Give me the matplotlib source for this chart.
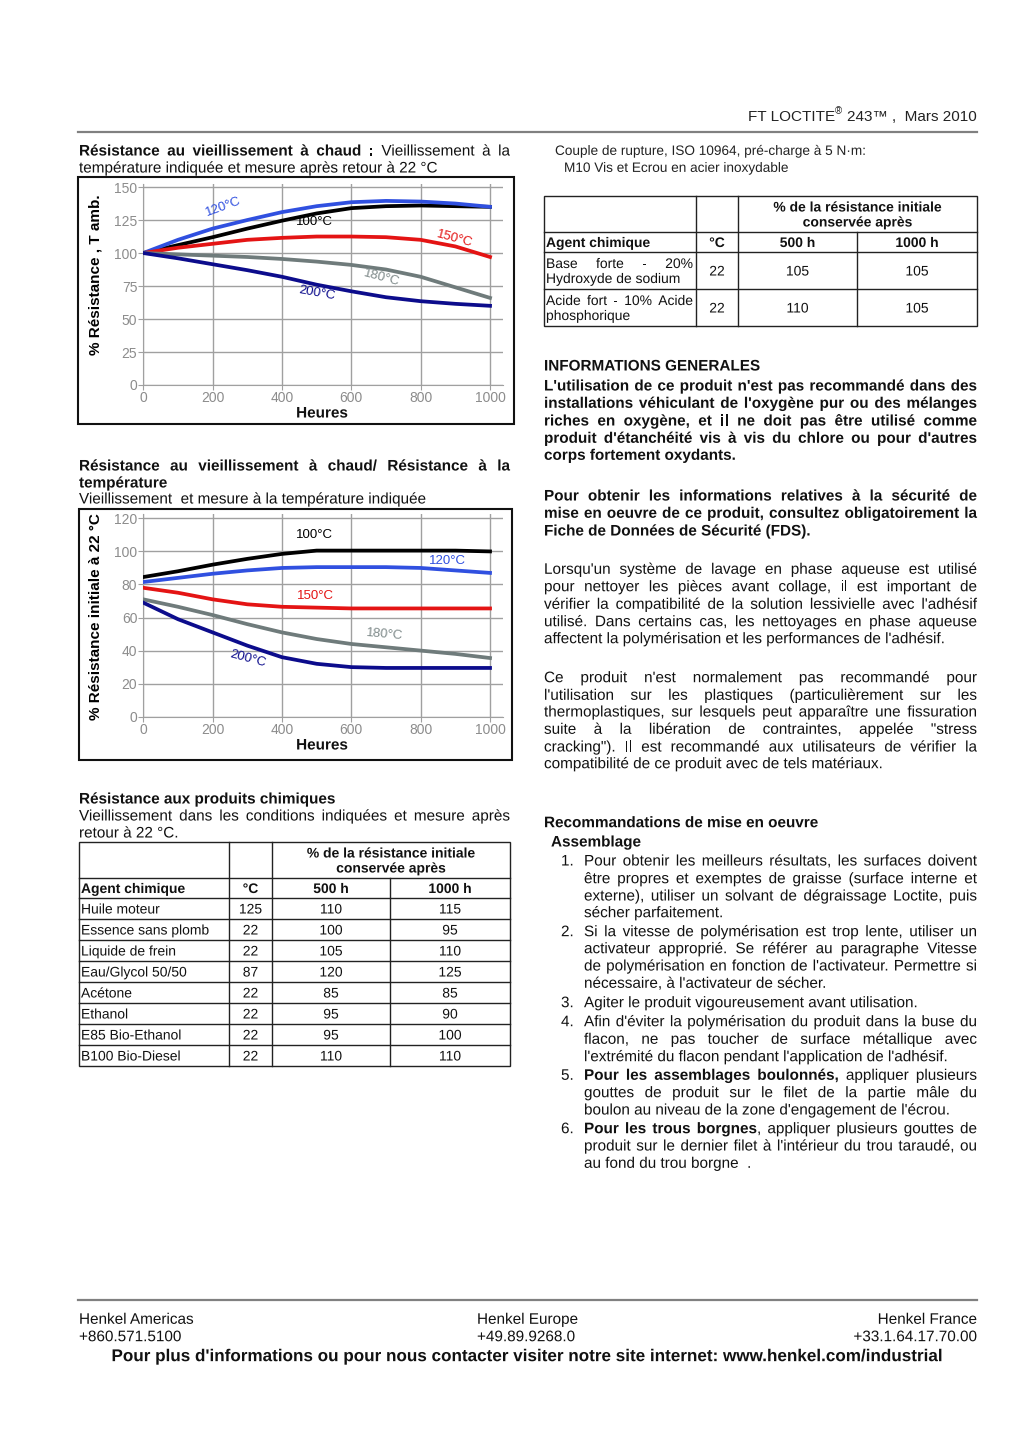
import matplotlib
matplotlib.use("Agg")
import matplotlib.pyplot as plt
from matplotlib.patches import Rectangle, PathPatch
from matplotlib.textpath import TextPath, TextToPath
from matplotlib.font_manager import FontProperties
from matplotlib.transforms import Affine2D

plt.rcParams["font.family"] = ["Liberation Sans", "DejaVu Sans"]

# ==================================================
# DONNEES
# ==================================================

heures = [0, 100, 200, 300, 400, 500, 600, 700, 800, 900, 1000]
temperatures = ["100°C", "120°C", "150°C", "180°C", "200°C"]

# vieillissement a chaud, mesure apres retour a 22 °C (% resistance, T amb.)
amb_100 = [100, 106, 112, 118.5, 124.5, 130, 134, 135.5, 136, 135.5, 135]
amb_120 = [100, 110, 118.5, 125, 131, 135.5, 138.5, 139.5, 139, 137.5, 135]
amb_150 = [100, 104, 107, 110, 111.5, 112.5, 112.5, 112, 110, 105, 97]
amb_180 = [100, 99, 98, 97, 95.5, 93.5, 91, 87.5, 82, 74, 66]
amb_200 = [100, 96, 91.5, 87, 82, 76, 71, 66.5, 63.5, 61.5, 60]

# vieillissement et mesure a la temperature (% resistance initiale a 22 °C)
chaud_100 = [84.5, 88, 92, 95.5, 98.5, 100.5, 100.5, 100.5, 100.5, 100.5, 100]
chaud_120 = [81.5, 84, 86.5, 88.5, 90, 90.5, 90.5, 90.5, 90, 88.5, 87]
chaud_150 = [78, 75, 71, 68, 66.5, 66, 65.5, 65.5, 65.5, 65.5, 65.5]
chaud_180 = [71, 66.5, 61.5, 56, 51, 47, 44, 42, 40, 38, 35.5]
chaud_200 = [69, 59, 51, 43, 36, 32, 30, 29.5, 29.5, 29.5, 29.5]

# resistance aux produits chimiques
chim_agents = ["Huile moteur", "Essence sans plomb", "Liquide de frein", "Eau/Glycol 50/50",
               "Acétone", "Ethanol", "E85 Bio-Ethanol", "B100 Bio-Diesel"]
chim_temp = [125, 22, 22, 87, 22, 22, 22, 22]
chim_500 = [110, 100, 105, 120, 85, 95, 95, 110]
chim_1000 = [115, 95, 110, 125, 85, 90, 100, 110]

# couple de rupture, M10 inox
acier_agents = [("Base forte - 20%", "Hydroxyde de sodium"),
                ("Acide fort - 10% Acide", "phosphorique")]
acier_temp = [22, 22]
acier_500 = [105, 110]
acier_1000 = [105, 105]

# ==================================================
# STYLE
# ==================================================

COUL = {"100°C": "#000000", "120°C": "#3050e0", "150°C": "#e41414",
        "180°C": "#6f7b7b", "200°C": "#0c0c8c"}
COUL_TXT = {"100°C": "#000000", "120°C": "#3050e0", "150°C": "#e41414",
            "180°C": "#7f8a8a", "200°C": "#0c0c8c"}

W, H = 1024, 1448
PX = 100 / 72

fig = plt.figure(figsize=(W / 100, H / 100), dpi=100)
page = fig.add_axes([0, 0, 1, 1])
page.set_xlim(0, W)
page.set_ylim(H, 0)
page.axis("off")
rend = fig.canvas.get_renderer()

t2p = TextToPath()
PROP = {False: FontProperties(family="Liberation Sans", weight="normal"),
        True: FontProperties(family="Liberation Sans", weight="bold")}
_cache = {}


def ink(s, size, bold=False):
    # largeur encre (non hintee) en pixels
    key = (s, size, bold)
    if key not in _cache:
        p = PROP[bold].copy()
        p.set_size(size)
        w, h, d = t2p.get_text_width_height_descent(s, p, ismath=False)
        _cache[key] = w * PX
    return _cache[key]


def adv(s, size, bold=False):
    # avance typographique (encadre par deux I)
    return ink("I" + s + "I", size, bold) - ink("II", size, bold)


def trace(x, y, s, size, bold, color):
    tp = TextPath((0, 0), s, size=size, prop=PROP[bold])
    tr = Affine2D().scale(PX, -PX).translate(x, y) + page.transData
    page.add_patch(PathPatch(tp, fc=color, lw=0, transform=tr))


def ligne(x, yc, segs, size=11, droite=None, color="#111111"):
    # segs: texte ou liste de (texte, gras); droite: justifier jusqu'a ce x
    y = yc + 0.36 * size * PX
    if isinstance(segs, str):
        segs = [(segs, False)]
    if droite is None:
        cx = x
        for txt, b in segs:
            trace(cx, y, txt, size, b, color)
            cx += adv(txt, size, b)
        return
    mots = []
    cx = x
    ecarts = 0
    for k, (txt, b) in enumerate(segs):
        sp = adv(" ", size, b)
        if k > 0 and txt[:1].isspace():
            cx += sp
            ecarts += 1
        tokens = txt.split()
        for i, m in enumerate(tokens):
            if i > 0:
                cx += sp
                ecarts += 1
            mots.append((m, b, cx, ecarts))
            cx += adv(m, size, b)
    extra = (droite - cx) / ecarts if ecarts > 0 else 0
    for m, b, pos, e in mots:
        trace(pos + e * extra, y, m, size, b, color)


def paragraphe(x, ys, lignes, droite, size=11, bold=False):
    for i, (yc, l) in enumerate(zip(ys, lignes)):
        segs = l if isinstance(l, list) else [(l, bold)]
        dernier = i == len(lignes) - 1
        ligne(x, yc, segs, size, None if dernier else droite)


def centre(x, yc, s, size=10, bold=False, color="#111111"):
    w = ink(s, size, bold)
    ligne(x - w / 2, yc, [(s, bold)], size, color=color)


def graphique(px, ylim, yticks, courbes, etiquettes):
    x0, x1, y0, y1 = px
    ax = fig.add_axes([x0 / W, 1 - y1 / H, (x1 - x0) / W, (y1 - y0) / H])
    ax.set_facecolor("none")
    for vals, t in zip(courbes, temperatures):
        ax.plot(heures, vals, color=COUL[t], lw=2.7, zorder=3)
    ax.set_xlim(0, 1038)
    ax.set_ylim(*ylim)
    ax.set_xticks(range(0, 1001, 200))
    ax.set_yticks(yticks)
    ax.grid(True, color="#a0a0a0", lw=1)
    ax.set_axisbelow(True)
    for s in ["top", "right"]:
        ax.spines[s].set_visible(False)
    for s in ["left", "bottom"]:
        ax.spines[s].set_color("#a0a0a0")
    ax.tick_params(colors="#a0a0a0", labelcolor="#8c8c8c", labelsize=10,
                   length=3.5, pad=0.8)
    for t, (x, y, r) in zip(temperatures, etiquettes):
        ax.text(x, y, t, color=COUL_TXT[t], rotation=r, ha="center", va="center",
                fontsize=9.5, zorder=4)
    return ax


def tableau(cols, rows, titre_col, agents, temps, v500, v1000, size=10):
    gauche, droite = cols[0], cols[-1]
    page.add_patch(Rectangle((gauche, rows[0]), droite - gauche, rows[-1] - rows[0],
                             fill=False, ec="#222222", lw=1))
    for c in cols[1:3]:
        page.plot([c, c], [rows[0], rows[-1]], color="#222222", lw=1)
    page.plot([cols[3], cols[3]], [rows[1], rows[-1]], color="#222222", lw=1)
    for r in rows[1:-1]:
        page.plot([gauche, droite], [r, r], color="#222222", lw=1)
    cx = [(cols[1] + cols[2]) / 2, (cols[2] + cols[3]) / 2, (cols[3] + cols[4]) / 2]
    mid = (cols[2] + cols[4]) / 2
    h0 = (rows[0] + rows[1]) / 2
    centre(mid, h0 - 7.5, "% de la résistance initiale", size, True)
    centre(mid, h0 + 7.5, "conservée après", size, True)
    h1 = (rows[1] + rows[2]) / 2
    ligne(gauche + 2, h1, [("Agent chimique", True)], size)
    centre(cx[0], h1, titre_col, size, True)
    centre(cx[1], h1, "500 h", size, True)
    centre(cx[2], h1, "1000 h", size, True)
    for i, ag in enumerate(agents):
        yc = (rows[i + 2] + rows[i + 3]) / 2
        if isinstance(ag, tuple):
            ligne(gauche + 2, yc - 7.5, ag[0], size, droite=cols[1] - 3)
            ligne(gauche + 2, yc + 7.5, ag[1], size)
        else:
            ligne(gauche + 2, yc, ag, size)
        centre(cx[0], yc, str(temps[i]), size)
        centre(cx[1], yc, str(v500[i]), size)
        centre(cx[2], yc, str(v1000[i]), size)


# ==================================================
# EN-TETE
# ==================================================

t3 = "243™ ,  Mars 2010"
rext = page.text(977, 121, t3, fontsize=11, ha="right", va="baseline", color="#222222")
w3 = rext.get_window_extent(rend).width
page.text(977 - w3 - 5, 114, "®", fontsize=7, ha="right", va="baseline", color="#222222")
page.text(977 - w3 - 12, 121, "FT LOCTITE", fontsize=11, ha="right", va="baseline",
          color="#222222")
page.plot([78, 977], [131.5, 131.5], color="#808080", lw=1.6)

# ==================================================
# COLONNE GAUCHE - GRAPHIQUE 1
# ==================================================

ligne(79, 150, [("Résistance au vieillissement à chaud :", True),
                (" Vieillissement à la", False)], 11, droite=510)
ligne(79, 167, "température indiquée et mesure après retour à 22 °C", 11)
page.add_patch(Rectangle((78, 177), 436, 247, fill=False, ec="#111111", lw=1.5))
graphique((143.3, 503.2, 184.4, 385), (0, 152), range(0, 151, 25),
          [amb_100, amb_120, amb_150, amb_180, amb_200],
          [(495, 123.5, 0), (231, 135, 20), (899, 111, -15), (688, 81, -15), (500, 69.5, -10)])
page.text(96, 275, "% Résistance , T amb.", fontsize=11, fontweight="bold", rotation=90,
          ha="center", va="center")
centre(322, 412, "Heures", 11, True)

# ==================================================
# COLONNE GAUCHE - GRAPHIQUE 2
# ==================================================

ligne(79, 465, [("Résistance au vieillissement à chaud/ Résistance à la", True)], 11, droite=510)
ligne(79, 482, [("température", True)], 11)
ligne(79, 498, "Vieillissement  et mesure à la température indiquée", 11)
page.add_patch(Rectangle((79, 509), 433, 251, fill=False, ec="#111111", lw=1.5))
graphique((143.3, 503.2, 514.4, 716.7), (0, 122.4), range(0, 121, 20),
          [chaud_100, chaud_120, chaud_150, chaud_180, chaud_200],
          [(495, 110, 0), (878, 94.2, 0), (497, 73.2, 0), (697, 49.4, -5), (301, 34.9, -15)])
page.text(96, 617, "% Résistance initiale à 22 °C", fontsize=11, fontweight="bold",
          rotation=90, ha="center", va="center")
centre(322, 744, "Heures", 11, True)

# ==================================================
# COLONNE GAUCHE - TABLEAU PRODUITS CHIMIQUES
# ==================================================

ligne(79, 798, [("Résistance aux produits chimiques", True)], 11)
ligne(79, 815, "Vieillissement dans les conditions indiquées et mesure après", 11, droite=510)
ligne(79, 832, "retour à 22 °C.", 11)
tableau([79, 229, 272, 390, 510],
        [842, 878, 898] + [898 + 21 * (i + 1) for i in range(len(chim_agents))],
        "°C", chim_agents, chim_temp, chim_500, chim_1000)

# ==================================================
# COLONNE DROITE
# ==================================================

ligne(555, 150, "Couple de rupture, ISO 10964, pré-charge à 5 N·m:", 9.8, color="#222222")
ligne(564, 167, "M10 Vis et Ecrou en acier inoxydable", 9.8, color="#222222")
tableau([544, 696, 738, 857, 977], [196, 232, 252, 289, 326],
        "°C", acier_agents, acier_temp, acier_500, acier_1000)

ligne(544, 365, [("INFORMATIONS GENERALES", True)], 11)
paragraphe(544, [385, 402.3, 420, 437.3, 454.3], [
    "L'utilisation de ce produit n'est pas recommandé dans des",
    "installations véhiculant de l'oxygène pur ou des mélanges",
    "riches en oxygène, et il ne doit pas être utilisé comme",
    "produit d'étanchéité vis à vis du chlore ou pour d'autres",
    "corps fortement oxydants.",
], 977, bold=True)
paragraphe(544, [495, 512.3, 530], [
    "Pour obtenir les informations relatives à la sécurité de",
    "mise en oeuvre de ce produit, consultez obligatoirement la",
    "Fiche de Données de Sécurité (FDS).",
], 977, bold=True)
paragraphe(544, [568.3, 585.7, 603.3, 620.7, 637.7], [
    "Lorsqu'un système de lavage en phase aqueuse est utilisé",
    "pour nettoyer les pièces avant collage, il est important de",
    "vérifier la compatibilité de la solution lessivielle avec l'adhésif",
    "utilisé. Dans certains cas, les nettoyages en phase aqueuse",
    "affectent la polymérisation et les performances de l'adhésif.",
], 977)
paragraphe(544, [676.7, 694.3, 711, 728.3, 746, 762.7], [
    "Ce produit n'est normalement pas recommandé pour",
    "l'utilisation sur les plastiques (particulièrement sur les",
    "thermoplastiques, sur lesquels peut apparaître une fissuration",
    "suite à la libération de contraintes, appelée \"stress",
    "cracking\"). Il est recommandé aux utilisateurs de vérifier la",
    "compatibilité de ce produit avec de tels matériaux.",
], 977)

ligne(544, 821.7, [("Recommandations de mise en oeuvre", True)], 11)
ligne(551, 841, [("Assemblage", True)], 11)

items = [
    ("1.", [860, 877.7, 895, 911.7], [
        "Pour obtenir les meilleurs résultats, les surfaces doivent",
        "être propres et exemptes de graisse (surface interne et",
        "externe), utiliser un solvant de dégraissage Loctite, puis",
        "sécher parfaitement."]),
    ("2.", [930.7, 947.7, 965, 982.3], [
        "Si la vitesse de polymérisation est trop lente, utiliser un",
        "activateur approprié. Se référer au paragraphe Vitesse",
        "de polymérisation en fonction de l'activateur. Permettre si",
        "nécessaire, à l'activateur de sécher."]),
    ("3.", [1001.7], [
        "Agiter le produit vigoureusement avant utilisation."]),
    ("4.", [1020.7, 1038.3, 1055.7], [
        "Afin d'éviter la polymérisation du produit dans la buse du",
        "flacon, ne pas toucher de surface métallique avec",
        "l'extrémité du flacon pendant l'application de l'adhésif."]),
    ("5.", [1074.3, 1091.7, 1109], [
        [("Pour les assemblages boulonnés,", True), (" appliquer plusieurs", False)],
        "gouttes de produit sur le filet de la partie mâle du",
        "boulon au niveau de la zone d'engagement de l'écrou."]),
    ("6.", [1127.7, 1145, 1162.3], [
        [("Pour les trous borgnes", True), (", appliquer plusieurs gouttes de", False)],
        "produit sur le dernier filet à l'intérieur du trou taraudé, ou",
        "au fond du trou borgne  ."]),
]
for num, ys, lignes in items:
    ligne(561, ys[0], num, 11)
    paragraphe(584, ys, lignes, 977)

# ==================================================
# PIED DE PAGE
# ==================================================

page.plot([78, 977], [1299.5, 1299.5], color="#808080", lw=1.6)
ligne(79, 1318.3, "Henkel Americas", 11)
ligne(79, 1335.7, "+860.571.5100", 11)
ligne(477, 1318.3, "Henkel Europe", 11)
ligne(477, 1335.7, "+49.89.9268.0", 11)
ligne(977 - ink("Henkel France", 11), 1318.3, "Henkel France", 11)
ligne(977 - ink("+33.1.64.17.70.00", 11), 1335.7, "+33.1.64.17.70.00", 11)
centre(527, 1355, "Pour plus d'informations ou pour nous contacter visiter notre site "
       "internet: www.henkel.com/industrial", 12.3, True)

fig.savefig("out.png", dpi=100)
